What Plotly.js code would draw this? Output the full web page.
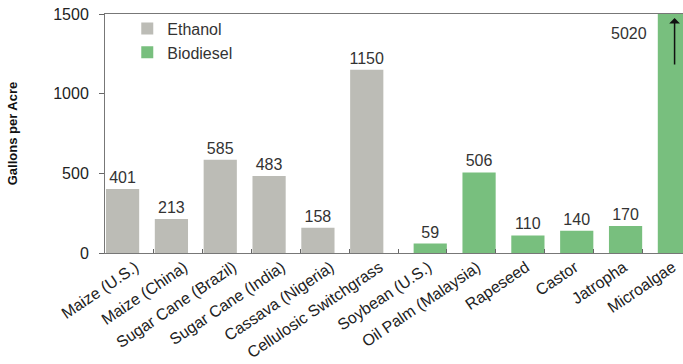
<!DOCTYPE html>
<html>
<head>
<meta charset="utf-8">
<script src="https://cdn.plot.ly/plotly-3.0.1.min.js"></script>
<style>
html,body{margin:0;padding:0;overflow:hidden;background:#fff;}
#chart{width:700px;height:364px;}
</style>
</head>
<body>
<div id="chart"></div>
<script>
const categories = ['Maize (U.S.)','Maize (China)','Sugar Cane (Brazil)','Sugar Cane (India)','Cassava (Nigeria)','Cellulosic Switchgrass','Soybean (U.S.)','Oil Palm (Malaysia)','Rapeseed','Castor','Jatropha','Microalgae'];
const ethanol   = [401, 213, 585, 483, 158, 1150, null, null, null, null, null, null];
const biodiesel = [null, null, null, null, null, null, 59, 506, 110, 140, 170, 5020];
const yTicks = [0, 500, 1000, 1500];
const yMax = 1500;

const FONT = 'Liberation Sans, Arial, Helvetica, sans-serif';
const gray = '#bcbcb6';
const green = '#78bf7e';

const labelOf = v => (v == null || v > yMax) ? '' : String(v);

const traces = [
  {
    type: 'bar', name: 'Ethanol', x: categories, y: ethanol,
    width: 0.68, offset: -0.48,
    marker: {color: gray},
    text: ethanol.map(labelOf), textposition: 'outside', constraintext: 'none',
    textfont: {family: FONT, size: 16, color: '#333'},
    hoverinfo: 'x+y'
  },
  {
    type: 'bar', name: 'Biodiesel', x: categories, y: biodiesel,
    width: 0.68, offset: -0.18,
    marker: {color: green},
    text: biodiesel.map(labelOf), textposition: 'outside', constraintext: 'none',
    textfont: {family: FONT, size: 16, color: '#333'},
    hoverinfo: 'x+y'
  }
];

const lastIdx = biodiesel.length - 1;
const layout = {
  width: 700, height: 364,
  margin: {l: 105, r: 9, t: 14, b: 111},
  paper_bgcolor: '#fff', plot_bgcolor: '#fff',
  font: {family: FONT, size: 16, color: '#222'},
  barmode: 'overlay',
  showlegend: true,
  legend: {
    x: 0.038, y: 1.01, xanchor: 'left', yanchor: 'top',
    bgcolor: 'rgba(0,0,0,0)', font: {family: FONT, size: 16, color: '#333'},
    tracegroupgap: 0
  },
  xaxis: {
    type: 'category', categoryorder: 'array', categoryarray: categories,
    range: [-0.5, categories.length - 0.5],
    tickson: 'boundaries', ticks: 'inside', ticklen: 4, tickcolor: '#666',
    tickangle: -34, tickfont: {family: FONT, size: 16, color: '#222'},
    ticklabelshift: 6, ticklabelstandoff: -2,
    showline: true, linecolor: '#777', linewidth: 1, mirror: true,
    showgrid: false, zeroline: false, fixedrange: true
  },
  yaxis: {
    range: [0, yMax], tickvals: yTicks, ticktext: yTicks.map(String),
    ticks: 'outside', ticklen: 5, tickcolor: '#666',
    ticklabelstandoff: 7,
    tickfont: {family: FONT, size: 16, color: '#222'},
    showline: true, linecolor: '#777', linewidth: 1,
    showgrid: false, zeroline: false, fixedrange: true,
    title: {text: 'Gallons per Acre', font: {family: FONT, size: 13, color: '#111', weight: 'bold'}, standoff: 32}
  },
  yaxis2: {
    overlaying: 'y', side: 'left', range: [0, yMax], tickvals: yTicks,
    ticks: 'inside', ticklen: 5, tickcolor: '#666',
    showticklabels: false, showline: false, showgrid: false, zeroline: false, fixedrange: true
  },
  annotations: [
    {
      x: categories[lastIdx], y: yMax, xref: 'x', yref: 'y',
      text: String(biodiesel[lastIdx]), showarrow: false,
      xanchor: 'right', yanchor: 'top', xshift: -18, yshift: -9,
      font: {family: FONT, size: 16, color: '#333'}
    },
    {
      x: categories[lastIdx], y: yMax, xref: 'x', yref: 'y',
      text: '', showarrow: true, ax: 0, ay: 48, xshift: 8, yshift: -4,
      arrowhead: 1, arrowsize: 1.2, arrowwidth: 1.5, arrowcolor: '#111'
    }
  ]
};

Plotly.newPlot('chart', traces, layout, {displayModeBar: false, staticPlot: true});
</script>
</body>
</html>
